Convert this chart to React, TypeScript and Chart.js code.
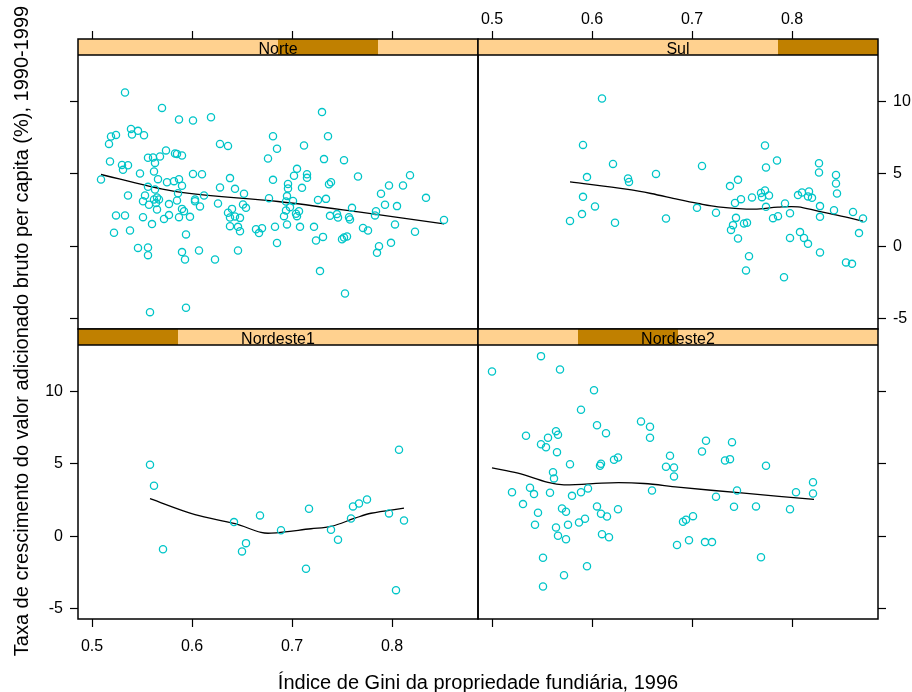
import React, { useEffect, useRef } from 'react';
import { Chart, registerables } from 'chart.js';
Chart.register(...registerables);

const W = 912;
const H = 692;
const FONT = '"Liberation Sans", Arial, Helvetica, sans-serif';

const X_MIN = 0.486;
const X_MAX = 0.886;
const Y_MIN = -5.69;
const Y_MAX = 14.3;

const xTicks = [0.5, 0.6, 0.7, 0.8];
const yTicks = [-5, 0, 5, 10];

const xTitle = 'Índice de Gini da propriedade fundiária, 1996';
const yTitle = 'Taxa de crescimento do valor adicionado bruto per capita (%), 1990-1999';

// strip level order (alphabetical factor levels)
const regionLevels = ['Nordeste1', 'Nordeste2', 'Norte', 'Sul'];

// ---------- Norte ----------
const norteGini = [
  0.533, 0.570, 0.587, 0.601, 0.619, 0.539, 0.546, 0.540, 0.552, 0.519, 0.524, 0.517, 0.628, 0.636, 0.681,
  0.685, 0.676, 0.574, 0.583, 0.585, 0.590, 0.556, 0.561, 0.568, 0.563, 0.518, 0.530, 0.536, 0.531, 0.548,
  0.562, 0.601, 0.610, 0.509, 0.566, 0.575, 0.582, 0.587, 0.590, 0.556, 0.638, 0.628, 0.643, 0.681, 0.563,
  0.536, 0.553, 0.551, 0.557, 0.562, 0.565, 0.567, 0.564, 0.565, 0.577, 0.585, 0.586, 0.590, 0.592, 0.587,
  0.577, 0.572, 0.560, 0.551, 0.524, 0.533, 0.522, 0.538, 0.598, 0.603, 0.603, 0.608, 0.612, 0.626, 0.594,
  0.546, 0.556, 0.556, 0.590, 0.593, 0.607, 0.623, 0.646, 0.636, 0.640, 0.638, 0.643, 0.648, 0.651, 0.654,
  0.638, 0.646, 0.648, 0.652, 0.664, 0.667, 0.670, 0.683, 0.685, 0.677, 0.558, 0.594,
  0.730, 0.736, 0.712, 0.732, 0.752, 0.705, 0.702, 0.715, 0.715, 0.696, 0.696, 0.710, 0.737, 0.739, 0.766,
  0.818, 0.797, 0.811, 0.789,
  0.695, 0.694, 0.701, 0.698, 0.694, 0.692, 0.695, 0.708, 0.704, 0.707, 0.705, 0.726, 0.734, 0.722, 0.724,
  0.731, 0.738, 0.745, 0.746, 0.757, 0.758, 0.760, 0.750, 0.752, 0.755, 0.771, 0.776, 0.783, 0.784, 0.793,
  0.805, 0.803, 0.787, 0.785, 0.799, 0.823, 0.834, 0.852, 0.728, 0.753,
];
const norteGrowth = [
  10.61, 9.55, 8.75, 8.68, 8.91, 8.10, 7.97, 7.72, 7.67, 7.58, 7.69, 7.07, 7.07, 6.93, 7.60,
  6.73, 6.06, 6.62, 6.41, 6.38, 6.27, 6.11, 6.13, 6.20, 5.76, 5.86, 5.62, 5.60, 5.28, 5.03,
  5.17, 5.00, 4.98, 4.62, 4.64, 4.43, 4.50, 4.64, 4.18, 4.11, 4.71, 4.07, 3.97, 4.59, 3.93,
  3.51, 3.51, 3.12, 2.87, 3.24, 3.38, 3.24, 3.00, 2.55, 2.92, 3.17, 3.67, 2.59, 2.43, 2.02,
  2.16, 1.90, 1.54, 2.02, 2.14, 2.14, 0.94, 1.10, 2.04, 3.24, 3.12, 2.76, 3.51, 2.96, 0.83,
  -0.10, -0.07, -0.60, -0.39, -0.90, -0.28, -0.90, -0.28, 2.32, 2.59, 2.00, 2.07, 1.97, 2.89, 2.66,
  1.40, 1.35, 1.05, 3.63, 1.19, 0.92, 1.26, 1.36, 0.24, 3.33, -4.53, -4.23,
  9.26, 7.60, 6.96, 6.02, 5.95, 5.35, 4.87, 4.98, 4.73, 4.31, 4.00, 4.04, 4.29, 4.43, 4.82,
  4.91, 4.20, 4.20, 3.63,
  3.47, 3.10, 3.14, 2.71, 2.48, 2.09, 1.52, 1.35, 2.25, 2.43, 2.09, 3.21, 3.28, 1.35, 0.41,
  0.66, 2.11, 2.23, 2.00, 2.02, 1.86, 2.66, 0.50, 0.62, 0.69, 1.28, 1.10, 2.14, 2.43, 2.87,
  2.78, 1.52, 0.02, -0.44, 0.25, 1.01, 3.35, 1.83, -1.70, -3.24,
];
const norteFitX = [0.509, 0.586, 0.686, 0.770, 0.852];
const norteFitY = [4.96, 3.76, 3.10, 2.35, 1.56];

// ---------- Sul ----------
const sulGini = [
  0.610, 0.591, 0.621, 0.595, 0.636, 0.637, 0.664, 0.591, 0.603, 0.590, 0.578, 0.623, 0.674,
  0.710, 0.705, 0.724, 0.738, 0.746, 0.743, 0.749, 0.760, 0.744, 0.741, 0.739, 0.752, 0.755, 0.746, 0.757,
  0.754, 0.773, 0.774, 0.785, 0.769, 0.773, 0.770, 0.777, 0.774, 0.781, 0.786, 0.793, 0.798, 0.798, 0.792,
  0.806, 0.810, 0.817, 0.816, 0.820, 0.808, 0.812, 0.816, 0.827, 0.827, 0.828, 0.828, 0.828, 0.844, 0.844,
  0.845, 0.842, 0.861, 0.871, 0.867, 0.854, 0.860,
];
const sulGrowth = [
  10.20, 7.00, 5.69, 4.78, 4.69, 4.45, 5.00, 3.42, 2.76, 2.23, 1.76, 1.63, 1.93,
  5.55, 2.66, 2.32, 4.16, 4.59, 3.00, 3.26, 3.38, 1.97, 1.47, 1.14, 1.59, 1.63, 0.55, -0.67,
  -1.65, 6.96, 5.44, 5.93, 3.69, 3.86, 3.40, 3.51, 2.73, 1.95, 2.09, 2.96, 2.29, 0.59, -2.12,
  3.54, 3.72, 3.79, 3.45, 3.35, 0.99, 0.59, 0.18, 5.74, 5.10, 2.78, 2.04, -0.41, 4.93, 4.34,
  3.65, 2.50, 2.38, 1.93, 0.92, -1.10, -1.20,
];
const sulFitX = [0.578, 0.636, 0.659, 0.686, 0.706, 0.726, 0.762, 0.786, 0.806, 0.826, 0.846, 0.871];
const sulFitY = [4.45, 3.93, 3.65, 3.24, 2.96, 2.73, 2.57, 2.71, 2.73, 2.43, 2.14, 1.74];

// ---------- Nordeste1 ----------
const ne1Gini = [
  0.558, 0.562, 0.571, 0.642, 0.668, 0.654, 0.650, 0.689, 0.717, 0.714,
  0.739, 0.746, 0.759, 0.761, 0.767, 0.775, 0.797, 0.812, 0.807, 0.804,
];
const ne1Growth = [
  4.94, 3.49, -0.88, 0.99, 1.45, -0.46, -1.03, 0.43, 1.91, -2.23,
  0.46, -0.23, 1.24, 2.07, 2.27, 2.55, 1.59, 1.10, 5.98, -3.70,
];
const ne1FitX = [0.558, 0.603, 0.643, 0.669, 0.679, 0.719, 0.739, 0.763, 0.779, 0.812];
const ne1FitY = [2.60, 1.50, 0.88, 0.28, 0.23, 0.53, 0.69, 1.26, 1.60, 1.95];

// ---------- Nordeste2 ----------
const ne2Gini = [
  0.500, 0.549, 0.568, 0.602, 0.589, 0.534, 0.564, 0.566, 0.556, 0.549, 0.554, 0.565, 0.605, 0.614, 0.649,
  0.658, 0.658, 0.578, 0.561, 0.562, 0.609, 0.608, 0.622, 0.626, 0.678, 0.674, 0.682, 0.682, 0.520, 0.538,
  0.542, 0.558, 0.580, 0.589, 0.596, 0.660, 0.531, 0.546, 0.543, 0.570, 0.574, 0.564, 0.576, 0.566, 0.574,
  0.587, 0.593, 0.605, 0.609, 0.615, 0.626, 0.610, 0.617, 0.685, 0.551, 0.595, 0.572, 0.551,
  0.714, 0.740, 0.710, 0.733, 0.738, 0.774, 0.821, 0.804, 0.821, 0.745, 0.724, 0.742, 0.764, 0.798, 0.701,
  0.694, 0.691, 0.697, 0.713, 0.720, 0.769,
];
const ne2Growth = [
  11.37, 12.43, 11.51, 10.08, 8.73, 6.94, 7.26, 7.01, 6.80, 6.36, 6.15, 5.81, 7.67, 7.12, 7.93,
  7.56, 6.80, 4.98, 4.43, 4.00, 5.01, 4.87, 5.29, 5.44, 5.56, 4.80, 4.76, 4.14, 3.05, 3.36,
  2.92, 3.01, 2.80, 3.05, 3.31, 3.17, 2.23, 1.63, 0.81, 1.93, 1.70, 0.62, 0.81, 0.05, -0.19,
  0.96, 1.22, 2.07, 1.56, 1.38, 1.88, 0.16, -0.05, -0.59, -1.47, -2.05, -2.67, -3.45,
  6.60, 6.50, 5.86, 5.24, 5.33, 4.87, 3.74, 3.05, 2.96, 3.17, 2.74, 2.05, 2.07, 1.88, 1.40,
  1.15, 1.01, -0.26, -0.39, -0.39, -1.43,
];
const ne2FitX = [0.500, 0.526, 0.556, 0.572, 0.619, 0.652, 0.686, 0.752, 0.822];
const ne2FitY = [4.73, 4.36, 3.72, 3.56, 3.70, 3.65, 3.40, 2.98, 2.55];

type AxisMode = 'none' | 'ticks' | 'labels';
interface PanelDef {
  name: string;
  rect: [number, number, number, number];
  top: AxisMode; bottom: AxisMode; left: AxisMode; right: AxisMode;
  xs: number[]; ys: number[]; fx: number[]; fy: number[];
}

const panels: PanelDef[] = [
  { name: 'Norte', rect: [78, 39, 478, 329], top: 'ticks', bottom: 'none', left: 'ticks', right: 'none', xs: norteGini, ys: norteGrowth, fx: norteFitX, fy: norteFitY },
  { name: 'Sul', rect: [478, 39, 878, 329], top: 'labels', bottom: 'none', left: 'none', right: 'labels', xs: sulGini, ys: sulGrowth, fx: sulFitX, fy: sulFitY },
  { name: 'Nordeste1', rect: [78, 329, 478, 619], top: 'none', bottom: 'labels', left: 'labels', right: 'none', xs: ne1Gini, ys: ne1Growth, fx: ne1FitX, fy: ne1FitY },
  { name: 'Nordeste2', rect: [478, 329, 878, 619], top: 'none', bottom: 'ticks', left: 'none', right: 'ticks', xs: ne2Gini, ys: ne2Growth, fx: ne2FitX, fy: ne2FitY },
];

const TICK_LEN = 8;
const STRIP_H = 16;

function axisCfg(kind: 'x' | 'y', pos: string, mode: AxisMode, size: number) {
  const pad = kind === 'y' ? 7 : pos === 'top' ? 2 : 10;
  return {
    type: 'linear',
    axis: kind,
    position: pos,
    display: mode !== 'none',
    min: kind === 'x' ? X_MIN : Y_MIN,
    max: kind === 'x' ? X_MAX : Y_MAX,
    afterBuildTicks: (s: any) => {
      s.ticks = (kind === 'x' ? xTicks : yTicks).map((v) => ({ value: v }));
    },
    afterFit: (s: any) => {
      if (kind === 'x') s.height = size; else s.width = size;
    },
    grid: { drawOnChartArea: false, drawTicks: true, tickLength: TICK_LEN, tickColor: '#000', tickWidth: 1.2 },
    border: { display: false },
    ticks: {
      display: mode === 'labels',
      padding: pad,
      color: '#000',
      autoSkip: false,
      maxRotation: 0,
      font: { family: FONT, size: 16 },
      callback: (v: any) => (kind === 'x' ? Number(v).toFixed(1) : String(v)),
    },
  };
}

function Panel({ def }: { def: PanelDef }) {
  const ref = useRef<HTMLCanvasElement>(null);
  useEffect(() => {
    const [L, T, R, B] = def.rect;
    const sz = (mode: AxisMode, full: number) => (mode === 'labels' ? full : mode === 'ticks' ? TICK_LEN : 0);
    const topS = sz(def.top, T);
    const botS = sz(def.bottom, H - B);
    const leftS = sz(def.left, L);
    const rightS = sz(def.right, W - R);
    const level = regionLevels.indexOf(def.name);
    const stripPlugin = {
      id: 'strip_' + def.name,
      afterDraw(chart: any) {
        const { ctx, chartArea: a } = chart;
        const w = a.right - a.left;
        ctx.save();
        ctx.fillStyle = '#FFD18F';
        ctx.fillRect(a.left, a.top, w, STRIP_H);
        ctx.fillStyle = '#C08000';
        ctx.fillRect(a.left + (w / 4) * level, a.top, w / 4, STRIP_H);
        ctx.beginPath();
        ctx.rect(a.left, a.top, w, STRIP_H);
        ctx.clip();
        ctx.fillStyle = '#000';
        ctx.font = '16px ' + FONT;
        ctx.textAlign = 'center';
        ctx.textBaseline = 'alphabetic';
        ctx.fillText(def.name, (a.left + a.right) / 2, a.top + STRIP_H - 1);
        ctx.restore();
        ctx.save();
        ctx.strokeStyle = '#000';
        ctx.lineWidth = 1.5;
        ctx.strokeRect(a.left, a.top, w, a.bottom - a.top);
        ctx.beginPath();
        ctx.moveTo(a.left, a.top + STRIP_H);
        ctx.lineTo(a.right, a.top + STRIP_H);
        ctx.stroke();
        ctx.restore();
      },
    };
    const chart = new Chart(ref.current as HTMLCanvasElement, {
      type: 'scatter',
      data: {
        datasets: [
          {
            type: 'scatter',
            data: def.xs.map((x, i) => ({ x, y: def.ys[i] })),
            pointStyle: 'circle',
            pointRadius: 3.6,
            pointHoverRadius: 3.6,
            borderWidth: 1.3,
            borderColor: '#00C5C8',
            backgroundColor: 'rgba(0,0,0,0)',
            xAxisID: 'x',
            yAxisID: 'y',
          } as any,
          {
            type: 'line',
            data: def.fx.map((x, i) => ({ x, y: def.fy[i] })),
            borderColor: '#000',
            borderWidth: 1.3,
            pointRadius: 0,
            tension: 0.35,
            fill: false,
            showLine: true,
            xAxisID: 'x',
            yAxisID: 'y',
          } as any,
        ],
      },
      options: {
        animation: false,
        responsive: false,
        maintainAspectRatio: false,
        events: [],
        layout: {
          autoPadding: false,
          padding: { left: L - leftS, top: T - topS, right: W - R - rightS, bottom: H - B - botS },
        },
        plugins: { legend: { display: false }, tooltip: { enabled: false } },
        scales: {
          x: axisCfg('x', 'bottom', def.bottom, botS),
          x2: axisCfg('x', 'top', def.top, topS),
          y: axisCfg('y', 'left', def.left, leftS),
          y2: axisCfg('y', 'right', def.right, rightS),
        } as any,
      },
      plugins: [stripPlugin],
    } as any);
    return () => chart.destroy();
  }, [def]);
  return (
    <canvas
      ref={ref}
      width={W}
      height={H}
      style={{ position: 'absolute', left: 0, top: 0, width: W, height: H }}
    />
  );
}

export default function App() {
  return (
    <div style={{ position: 'absolute', left: 0, top: 0, width: W, height: H, background: '#fff', overflow: 'hidden' }}>
      {panels.map((p) => (
        <Panel key={p.name} def={p} />
      ))}
      <div
        style={{
          position: 'absolute', left: 21 - 360, top: 331 - 12, width: 720, height: 24, lineHeight: '24px',
          textAlign: 'center', transform: 'rotate(-90deg)', fontFamily: FONT, fontSize: 20, color: '#000', whiteSpace: 'nowrap',
        }}
      >
        {yTitle}
      </div>
      <div
        style={{
          position: 'absolute', left: 478 - 300, top: 670, width: 600, height: 24, lineHeight: '24px',
          textAlign: 'center', fontFamily: FONT, fontSize: 20, color: '#000', whiteSpace: 'nowrap',
        }}
      >
        {xTitle}
      </div>
    </div>
  );
}
